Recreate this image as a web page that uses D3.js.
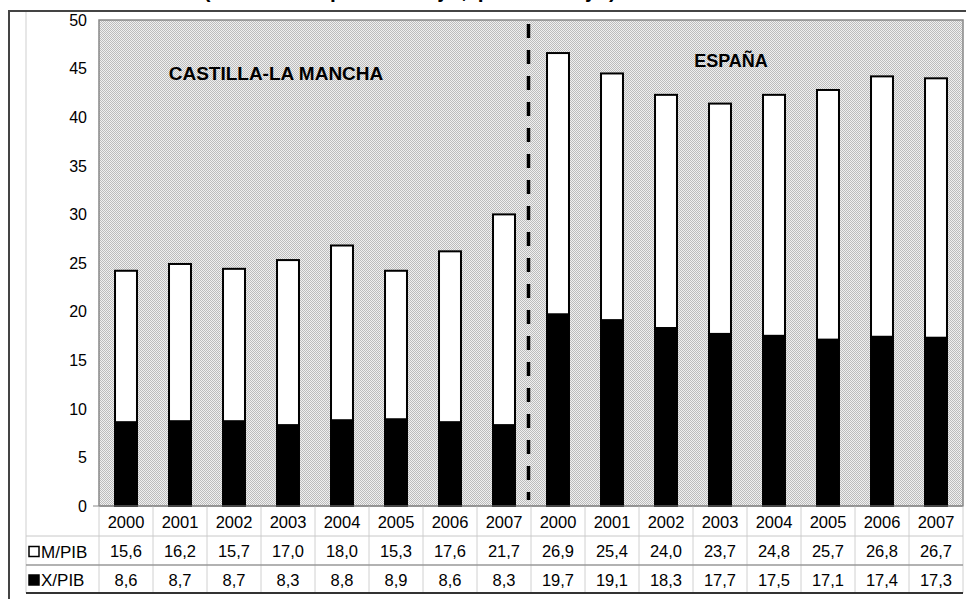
<!DOCTYPE html>
<html>
<head>
<meta charset="utf-8">
<script src="https://cdn.jsdelivr.net/npm/d3@7"></script>
<style>
    body { margin: 0; background: #fff; }
    text { font-family: "Liberation Sans", Arial, sans-serif; }
</style>
</head>
<body>
<div id="chart"></div>
<script>
// Data
const regions = ["CASTILLA-LA MANCHA", "ESPAÑA"];
const years = ["2000", "2001", "2002", "2003", "2004", "2005", "2006", "2007"];
const mpibCLM = [15.6, 16.2, 15.7, 17.0, 18.0, 15.3, 17.6, 21.7];
const xpibCLM = [8.6, 8.7, 8.7, 8.3, 8.8, 8.9, 8.6, 8.3];
const mpibESP = [26.9, 25.4, 24.0, 23.7, 24.8, 25.7, 26.8, 26.7];
const xpibESP = [19.7, 19.1, 18.3, 17.7, 17.5, 17.1, 17.4, 17.3];
const yTicks = [0, 5, 10, 15, 20, 25, 30, 35, 40, 45, 50];
const seriesNames = ["M/PIB", "X/PIB"];
const titleText = "(Datos en porcentaje, porcentaje)";

class StackedTableChart {
    constructor(parentElement) {
        this.parentElement = parentElement;
        this.processData();
        this.render();
    }

    processData() {
        let vis = this;
        vis.rows = [];
        years.forEach((y, i) => vis.rows.push({key: "clm" + y, year: y, region: 0, m: mpibCLM[i], x: xpibCLM[i]}));
        years.forEach((y, i) => vis.rows.push({key: "esp" + y, year: y, region: 1, m: mpibESP[i], x: xpibESP[i]}));
    }

    render() {
        let vis = this;
        vis.width = 966;
        vis.height = 599;
        vis.plot = {left: 99, right: 963, top: 20, bottom: 506};
        vis.table = {left: 26, rowY: [506, 536, 565, 593]};

        vis.svg = d3.select("#" + vis.parentElement).append("svg")
            .attr("width", vis.width)
            .attr("height", vis.height);

        // checker pattern for plot background
        let pat = vis.svg.append("defs").append("pattern")
            .attr("id", "checker")
            .attr("patternUnits", "userSpaceOnUse")
            .attr("width", 2).attr("height", 2);
        pat.append("rect").attr("width", 2).attr("height", 2).attr("fill", "#f0f0f0");
        pat.append("rect").attr("width", 1).attr("height", 1).attr("fill", "#bcbcbc");
        pat.append("rect").attr("x", 1).attr("y", 1).attr("width", 1).attr("height", 1).attr("fill", "#bcbcbc");

        // title, cut off at the top edge like the source image
        vis.svg.append("text")
            .attr("x", 411).attr("y", -2)
            .attr("text-anchor", "middle")
            .style("font-size", "21px").style("font-weight", "bold")
            .style("letter-spacing", "2.5px")
            .text(titleText);

        // outer frame
        vis.svg.append("path")
            .attr("d", "M9,605 V11 H970")
            .attr("fill", "none").attr("stroke", "#444").attr("stroke-width", 2);
        vis.svg.append("line")
            .attr("x1", vis.table.left).attr("x2", vis.table.left)
            .attr("y1", 12).attr("y2", vis.table.rowY[3])
            .attr("stroke", "#cfcfcf");

        // scales
        vis.xCol = d3.scaleBand()
            .domain(vis.rows.map(d => d.key))
            .range([vis.plot.left, vis.plot.right]);
        vis.x = d3.scaleBand()
            .domain(vis.rows.map(d => d.key))
            .range([vis.plot.left, vis.plot.right])
            .paddingInner(0.556)
            .paddingOuter(0.278);
        vis.y = d3.scaleLinear()
            .domain([0, 50])
            .range([vis.plot.bottom, vis.plot.top]);

        // plot area
        vis.svg.append("rect")
            .attr("x", vis.plot.left).attr("y", vis.plot.top)
            .attr("width", vis.plot.right - vis.plot.left)
            .attr("height", vis.plot.bottom - vis.plot.top)
            .attr("fill", "url(#checker)")
            .attr("stroke", "#888").attr("stroke-width", 1.5);

        // y axis labels
        vis.svg.append("g").selectAll("text")
            .data(yTicks)
            .enter().append("text")
            .attr("x", 87)
            .attr("y", d => vis.y(d))
            .attr("dy", "0.36em")
            .attr("text-anchor", "end")
            .style("font-size", "16px")
            .text(d => d);
        vis.svg.append("line")
            .attr("x1", 93).attr("x2", vis.plot.left)
            .attr("y1", vis.y(0)).attr("y2", vis.y(0))
            .attr("stroke", "#888");

        // bars
        let bw = vis.x.bandwidth();
        let bars = vis.svg.append("g").selectAll("g")
            .data(vis.rows)
            .enter().append("g");
        bars.append("rect")
            .attr("x", d => vis.x(d.key) + 1)
            .attr("width", bw - 2)
            .attr("y", d => vis.y(d.x + d.m))
            .attr("height", d => vis.y(d.x) - vis.y(d.x + d.m))
            .attr("fill", "#fff")
            .attr("stroke", "#000").attr("stroke-width", 2);
        bars.append("rect")
            .attr("x", d => vis.x(d.key) + 1)
            .attr("width", bw - 2)
            .attr("y", d => vis.y(d.x))
            .attr("height", d => vis.y(0) - vis.y(d.x))
            .attr("fill", "#000")
            .attr("stroke", "#000").attr("stroke-width", 2);

        // dashed separator between regions
        let sepX = vis.xCol(vis.rows[8].key) - 2.5;
        vis.svg.append("line")
            .attr("x1", sepX).attr("x2", sepX)
            .attr("y1", 24).attr("y2", 500)
            .attr("stroke", "#000").attr("stroke-width", 3.5)
            .attr("stroke-dasharray", "14,12");

        // region labels
        vis.svg.append("text")
            .attr("x", 276).attr("y", 80)
            .attr("text-anchor", "middle")
            .style("font-size", "19px").style("font-weight", "bold")
            .text(regions[0]);
        vis.svg.append("text")
            .attr("x", 731).attr("y", 67)
            .attr("text-anchor", "middle")
            .style("font-size", "18px").style("font-weight", "bold")
            .text(regions[1]);

        vis.createTable();
    }

    createTable() {
        let vis = this;
        let ry = vis.table.rowY;
        let grid = vis.svg.append("g").attr("class", "table-grid");
        let fmt = v => d3.format(".1f")(v).replace(".", ",");

        // vertical lines
        let bounds = vis.rows.map(d => vis.xCol(d.key)).concat([vis.plot.right]);
        grid.selectAll("line.v")
            .data(bounds)
            .enter().append("line")
            .attr("class", "v")
            .attr("x1", d => d).attr("x2", d => d)
            .attr("y1", ry[0]).attr("y2", ry[3])
            .attr("stroke", "#d0d0d0");

        // horizontal lines
        grid.append("line")
            .attr("x1", vis.table.left).attr("x2", vis.plot.right)
            .attr("y1", ry[1]).attr("y2", ry[1])
            .attr("stroke", "#c8c8c8");
        grid.append("line")
            .attr("x1", vis.table.left).attr("x2", vis.plot.right)
            .attr("y1", ry[2]).attr("y2", ry[2])
            .attr("stroke", "#999").attr("stroke-width", 1.5);
        grid.append("line")
            .attr("x1", vis.table.left).attr("x2", vis.plot.right)
            .attr("y1", ry[3]).attr("y2", ry[3])
            .attr("stroke", "#333").attr("stroke-width", 2);
        grid.append("line")
            .attr("x1", vis.plot.left).attr("x2", vis.plot.right)
            .attr("y1", ry[0]).attr("y2", ry[0])
            .attr("stroke", "#888");

        let cx = d => vis.xCol(d.key) + vis.xCol.bandwidth() / 2;
        let cells = vis.svg.append("g").style("font-size", "16.5px");

        cells.selectAll("text.year")
            .data(vis.rows)
            .enter().append("text")
            .attr("class", "year")
            .attr("x", cx).attr("y", (ry[0] + ry[1]) / 2 + 1)
            .attr("dy", "0.36em").attr("text-anchor", "middle")
            .text(d => d.year);
        cells.selectAll("text.m")
            .data(vis.rows)
            .enter().append("text")
            .attr("class", "m")
            .attr("x", cx).attr("y", (ry[1] + ry[2]) / 2 + 1)
            .attr("dy", "0.36em").attr("text-anchor", "middle")
            .text(d => fmt(d.m));
        cells.selectAll("text.x")
            .data(vis.rows)
            .enter().append("text")
            .attr("class", "x")
            .attr("x", cx).attr("y", (ry[2] + ry[3]) / 2 + 1)
            .attr("dy", "0.36em").attr("text-anchor", "middle")
            .text(d => fmt(d.x));

        // legend keys in the row headers
        seriesNames.forEach((name, i) => {
            let midY = (ry[i + 1] + ry[i + 2]) / 2 + 1;
            cells.append("rect")
                .attr("x", 29).attr("y", midY - 5)
                .attr("width", 10).attr("height", 10)
                .attr("fill", i === 0 ? "#fff" : "#000")
                .attr("stroke", "#000").attr("stroke-width", 1.5);
            cells.append("text")
                .attr("x", 41).attr("y", midY)
                .attr("dy", "0.36em")
                .style("font-size", "17px")
                .text(name);
        });
    }
}

new StackedTableChart("chart");
</script>
</body>
</html>
